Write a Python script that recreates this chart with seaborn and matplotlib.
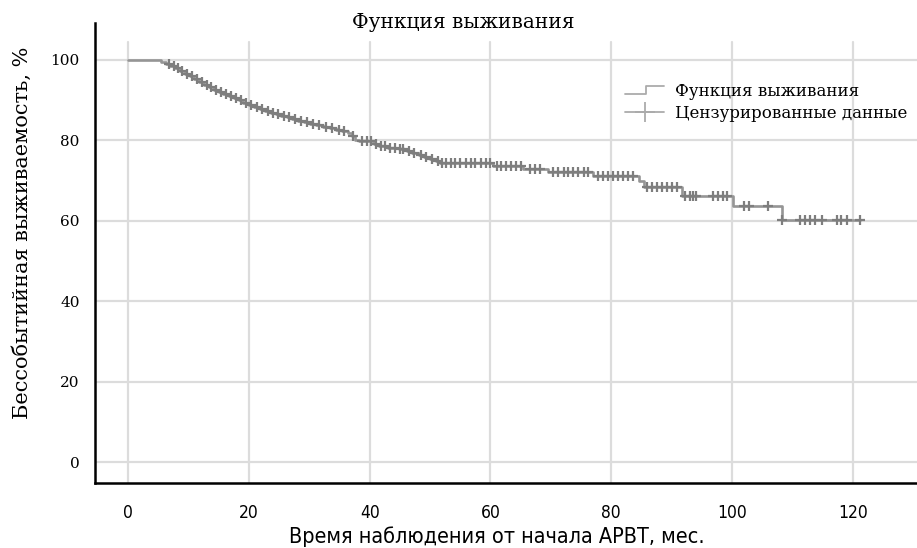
import matplotlib
matplotlib.use("Agg")
import matplotlib.pyplot as plt
from matplotlib.legend_handler import HandlerBase
from matplotlib.lines import Line2D
import numpy as np
import pandas as pd
import seaborn as sns

# Kaplan-Meier curve: time of each drop (months) and survival after it (%)
step_time = [0, 5.5, 6.3, 7.0, 7.8, 8.6, 9.4, 10.2, 11.0, 11.8,
             12.6, 13.4, 14.2, 15.0, 15.8, 16.7, 17.5, 18.3, 19.1, 20.0,
             20.9, 21.8, 22.7, 23.6, 24.5, 25.4, 26.3, 27.2, 28.2, 29.2,
             30.2, 31.2, 32.3, 33.4, 34.5, 35.5, 36.4, 37.0, 37.6, 38.3,
             40.8, 41.5, 43.0, 45.0, 46.2, 47.0, 48.2, 49.0, 50.0, 51.0,
             51.6, 60.4, 65.4, 69.5, 77.0, 84.6, 85.4, 91.7, 100.2, 108.2]
step_surv = [100, 99.5, 99.0, 98.5, 98.0, 97.3, 96.6, 95.9, 95.2, 94.5,
             93.9, 93.3, 92.6, 92.0, 91.5, 91.0, 90.5, 90.0, 89.4, 88.8,
             88.3, 87.8, 87.4, 86.9, 86.5, 86.1, 85.7, 85.3, 84.9, 84.5,
             84.1, 83.8, 83.4, 83.1, 82.7, 82.3, 81.8, 81.0, 80.2, 79.8,
             79.2, 78.6, 78.2, 77.8, 77.3, 76.8, 76.3, 75.8, 75.3, 74.8,
             74.4, 73.7, 72.9, 72.1, 71.2, 69.8, 68.3, 66.2, 63.6, 60.2]
end_time = 121.1

# censored observations (months)
censor_time = [6.8, 7.6, 8.3, 9.0, 9.8, 10.6, 11.4, 12.2, 13.0, 13.8,
               14.6, 15.4, 16.2, 17.1, 17.9, 18.7, 19.5, 20.4, 21.3, 22.2,
               23.1, 24.0, 24.9, 25.8, 26.7, 27.6, 28.6, 29.6, 30.6, 31.6,
               32.7, 33.8, 34.9, 35.8, 37.3, 38.8, 39.5, 40.3, 41.1, 41.9,
               42.6, 43.4, 44.2, 45.0, 45.6, 46.5, 47.4, 48.5, 49.4, 50.4,
               51.3, 51.9, 52.6, 53.4, 54.2, 55.0, 55.9, 56.7, 57.5, 58.4,
               59.2, 60.0, 61.0, 61.8, 62.6, 63.4, 64.2, 65.0, 66.6, 67.4,
               68.2, 70.4, 71.2, 72.1, 72.9, 73.7, 74.5, 75.4, 76.2, 77.8,
               78.6, 79.5, 80.3, 81.1, 81.9, 82.8, 83.6, 85.9, 86.7, 87.5,
               88.4, 89.2, 90.0, 90.8, 92.2, 93.0, 93.6, 94.1, 96.9, 97.7,
               98.5, 99.1, 102.0, 102.8, 106.0, 108.2, 111.3, 112.1, 112.9, 113.7,
               114.8, 117.3, 118.1, 119.0, 121.1]

x_ticks = [0, 20, 40, 60, 80, 100, 120]
y_ticks = [0, 20, 40, 60, 80, 100]

title = "Функция выживания"
xlabel = "Время наблюдения от начала АРВТ, мес."
ylabel = "Бессобытийная выживаемость, %"
legend_labels = ["Функция выживания", "Цензурированные данные"]

LINE_C = "#959595"
MARK_C = "#7e7e7e"
GRID_C = "#dcdcdc"
NARROW = ["Liberation Sans Narrow", "DejaVu Sans"]

curve = pd.DataFrame({"time": step_time + [end_time],
                      "surv": step_surv + [step_surv[-1]]})
idx = np.searchsorted(step_time, censor_time, side="right") - 1
censored = pd.DataFrame({"time": censor_time,
                         "surv": np.array(step_surv)[idx]})


class StepHandler(HandlerBase):
    # little step glyph for the survival-function legend entry
    def create_artists(self, legend, orig_handle, xdescent, ydescent,
                       width, height, fontsize, trans):
        x0 = -xdescent
        ym = -ydescent + height / 2
        xm = x0 + width * 0.55
        xs = [x0, xm, xm, x0 + width]
        ys = [ym - height * 0.3, ym - height * 0.3, ym + height * 0.35, ym + height * 0.35]
        ln = Line2D(xs, ys, color=orig_handle.get_color(),
                    lw=orig_handle.get_linewidth())
        ln.set_transform(trans)
        return [ln]


sns.set_theme(style="white")
plt.rcParams["font.family"] = ["DejaVu Serif"]
plt.rcParams.update({"text.color": "black", "xtick.color": "black",
                     "ytick.color": "black"})

fig = plt.figure(figsize=(9.17, 5.48), dpi=100)
ax = fig.add_axes([95 / 917, 65 / 548, 1 - 95 / 917, 460 / 548])

ax.set_xlim(-5.46, 130.6)
ax.set_ylim(-5.22, 109.2)

# grid: horizontal full width, vertical stops short of the top
for yv in y_ticks:
    ax.axhline(yv, color=GRID_C, lw=1.6, zorder=0)
for xv in x_ticks:
    ax.axvline(xv, ymax=(104.5 + 5.22) / (109.2 + 5.22), color=GRID_C, lw=1.6, zorder=0)

sns.lineplot(data=curve, x="time", y="surv", ax=ax, estimator=None, sort=False,
             drawstyle="steps-post", color=LINE_C, lw=1.9, zorder=3)
sns.scatterplot(data=censored, x="time", y="surv", ax=ax, marker="+",
                color=MARK_C, s=55, linewidth=1.6, zorder=4)

ax.set_xticks(x_ticks)
ax.set_yticks(y_ticks)
ax.set_xticklabels([str(v) for v in x_ticks], family=NARROW,
                   fontstretch="condensed", fontsize=12.5)
ax.set_yticklabels([str(v) for v in y_ticks], fontsize=11)
ax.tick_params(axis="x", length=0, pad=15)
ax.tick_params(axis="y", length=0, pad=11)
ax.set_xlabel("")
ax.set_ylabel("")

for side in ["top", "right"]:
    ax.spines[side].set_visible(False)
for side in ["left", "bottom"]:
    ax.spines[side].set_color("black")
    ax.spines[side].set_linewidth(1.8)

fig.text(463 / 917, 1 - 22 / 548, title, ha="center", va="center", fontsize=14.5)
fig.text(497 / 917, 1 - 537 / 548, xlabel, ha="center", va="center",
         family=NARROW, fontstretch="condensed", fontsize=15.5)
fig.text(22 / 917, 1 - 233 / 548, ylabel, ha="center", va="center",
         rotation=90, fontsize=15)

h_curve = Line2D([], [], color="#ababab", lw=1.3)
h_cens = Line2D([], [], color="#ababab", lw=1.3, marker="+", markersize=15, mew=1.3)
fig.legend([h_curve, h_cens], legend_labels, loc="upper left",
           bbox_to_anchor=(617 / 917, 1 - 75 / 548), frameon=False,
           fontsize=12, borderpad=0, handlelength=2.3, handletextpad=0.7,
           labelspacing=0.3, handler_map={h_curve: StepHandler()})

fig.savefig("out.png", dpi=100)
plt.close(fig)
